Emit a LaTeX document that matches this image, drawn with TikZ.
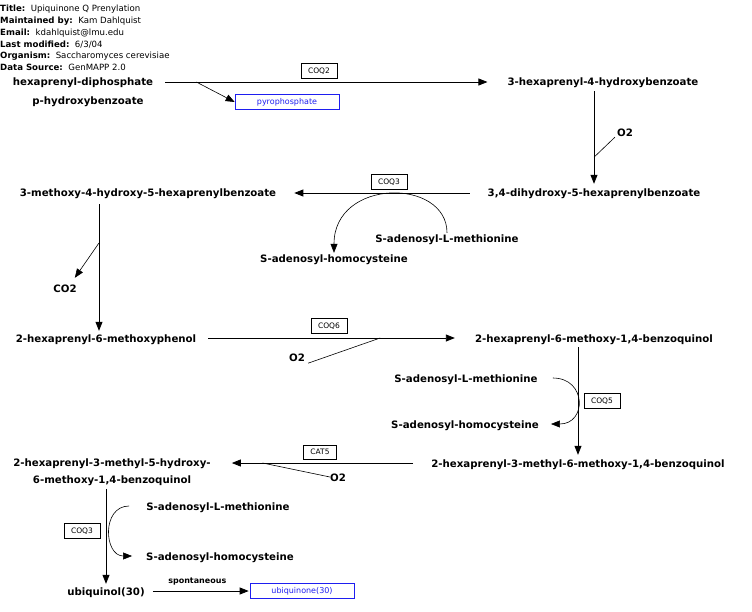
\documentclass[tikz,border=0pt]{standalone}
\usepackage{fontspec}
\setmainfont{DejaVu Sans}
\usetikzlibrary{arrows.meta,positioning,calc}
\definecolor{pwblue}{RGB}{30,30,240}

\begin{document}
\begin{tikzpicture}[x=1pt,y=-1pt,>={Triangle[length=9pt,width=7pt]},
   metfont/.style={font=\bfseries\fontsize{10.2}{12.5}\selectfont,inner sep=0pt},
   met/.style={metfont,text height=10pt,text depth=2pt},
   gene/.style={draw,fill=white,line width=0.6pt,font=\fontsize{7.5}{8}\selectfont,inner xsep=7pt,inner ysep=4pt},
   prod/.style={draw=pwblue,text=pwblue,line width=0.7pt,font=\fontsize{8}{9}\selectfont,minimum width=104pt,minimum height=15pt,inner sep=0pt},
   rxn/.style={->,line width=0.8pt},
   side/.style={line width=0.6pt}]
  \useasboundingbox (0,0) rectangle (752,612);
  \node[anchor=north west,align=left,inner sep=0pt,font=\fontsize{8.6}{11.8}\selectfont] (info) at (0,5)
    {\textbf{Title:}\ \ Upiquinone Q Prenylation\\
     \textbf{Maintained by:}\ \ Kam Dahlquist\\
     \textbf{Email:}\ \ kdahlquist@lmu.edu\\
     \textbf{Last modified:}\ \ 6/3/04\\
     \textbf{Organism:}\ \ Saccharomyces cerevisiae\\
     \textbf{Data Source:}\ \ GenMAPP 2.0};
  \node[met] (hdp) at (83,82) {hexaprenyl-diphosphate};
  \node[met] (phb) at (88,101) {p-hydroxybenzoate};
  \node[met] (h4hb) at (603,82) {3-hexaprenyl-4-hydroxybenzoate};
  \node[met] (dhhb) at (594,193) {3,4-dihydroxy-5-hexaprenylbenzoate};
  \node[met] (mhhb) at (148,193) {3-methoxy-4-hydroxy-5-hexaprenylbenzoate};
  \node[met] (hmp) at (106,338) {2-hexaprenyl-6-methoxyphenol};
  \node[met] (hmbq) at (594,338) {2-hexaprenyl-6-methoxy-1,4-benzoquinol};
  \node[met] (hmmbq) at (578,463) {2-hexaprenyl-3-methyl-6-methoxy-1,4-benzoquinol};
  \node[metfont,align=center,anchor=north,font=\bfseries\fontsize{10.2}{16.5}\selectfont] (hmhmbq) at (112,459)
    {2-hexaprenyl-3-methyl-5-hydroxy-\\6-methoxy-1,4-benzoquinol};
  \node[met] (ubq) at (106,591) {ubiquinol(30)};
  \node[met] (o2a) at (625,133) {O2};
  \node[met] (co2) at (65,288) {CO2};
  \node[met] (o2b) at (297,357) {O2};
  \node[met] (o2c) at (338,477) {O2};
  \node[met] (sam1) at (447,239) {S-adenosyl-L-methionine};
  \node[met] (sah1) at (334,259) {S-adenosyl-homocysteine};
  \node[met] (sam2) at (466,378) {S-adenosyl-L-methionine};
  \node[met] (sah2) at (465,424) {S-adenosyl-homocysteine};
  \node[met] (sam3) at (218,506) {S-adenosyl-L-methionine};
  \node[met] (sah3) at (220,556) {S-adenosyl-homocysteine};
  \node[prod] (ppi) at (287,102) {pyrophosphate};
  \node[prod] (ubq30) at (302,591) {ubiquinone(30)};
  % reactions
  \draw[rxn,shorten <=12pt,shorten >=20pt] (hdp) -- (h4hb);
  \coordinate (b1) at ($(hdp.east)+(43,0)$);
  \draw[->,side] (b1) -- (ppi.west);
  \draw[rxn,shorten <=3pt,shorten >=3pt] (h4hb.south -| dhhb) -- (dhhb.north);
  \coordinate (b2) at ($(h4hb.south -| dhhb)!0.7!(dhhb.north)$);
  \draw[side] (b2) -- ([xshift=-2pt,yshift=2pt]o2a.south west);
  \draw[rxn,shorten <=18pt,shorten >=18pt] (dhhb) -- (mhhb);
  \draw[->,side] (sam1.north) .. controls +(0,-55) and +(0,-75) .. (sah1.north);
  \draw[rxn,shorten <=5pt,shorten >=1pt] ([xshift=-7pt]hmp.north |- mhhb.south) -- ([xshift=-7pt]hmp.north);
  \coordinate (b3) at ($([xshift=-7pt]hmp.north |- mhhb.south)!0.33!([xshift=-7pt]hmp.north)$);
  \draw[->,side] (b3) -- ([xshift=-2pt,yshift=4pt]co2.north east);
  \draw[rxn,shorten <=12pt,shorten >=20pt] (hmp) -- (hmbq);
  \coordinate (b4) at ($(hmp.east)!0.66!(hmbq.west)$);
  \draw[side] ([xshift=3pt]o2b.south east) -- (b4);
  \draw[rxn,shorten <=3pt,shorten >=2pt] (hmmbq.north |- hmbq.south) -- (hmmbq.north);
  \draw[->,side] ([xshift=15pt]sam2.east) .. controls +(34,0) and +(36,0) .. ([xshift=12pt]sah2.east);
  \draw[rxn,shorten <=18pt,shorten >=21pt] (hmmbq.west) -- (hmmbq.west -| hmhmbq.east);
  \coordinate (b5) at ($(hmmbq.west -| hmhmbq.east)!0.235!(hmmbq.west)$);
  \draw[side] (b5) -- (o2c.west);
  \draw[rxn,shorten <=3pt,shorten >=1pt] ([xshift=-6pt]hmhmbq.south) -- ([xshift=-6pt]hmhmbq.south |- ubq.north);
  \draw[->,side] ([xshift=-17pt]sam3.west) .. controls +(-28,0) and +(-28,0) .. ([xshift=-14pt]sah3.west);
  \draw[rxn,shorten <=8pt,shorten >=1pt] (ubq) -- (ubq30)
    node[midway,above=2pt,font=\bfseries\fontsize{8}{9}\selectfont] (spon) {spontaneous};
  % enzymes
  \node[gene] (coq2) at (319,71) {COQ2};
  \node[gene] (coq3a) at (389,182) {COQ3};
  \node[gene] (coq6) at (329,326) {COQ6};
  \node[gene] (coq5) at (602,401) {COQ5};
  \node[gene] (cat5) at (320,452) {CAT5};
  \node[gene] (coq3b) at (82,531) {COQ3};
\end{tikzpicture}
\end{document}
